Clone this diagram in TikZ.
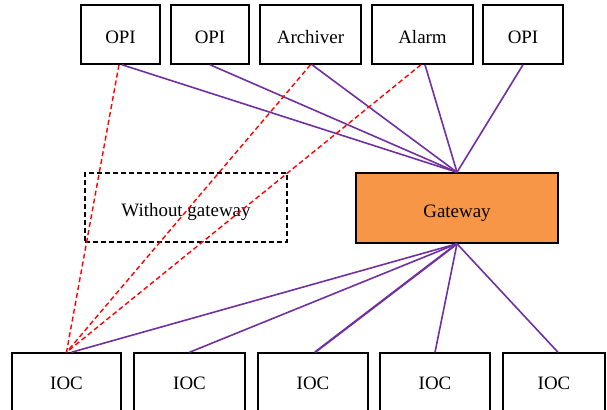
\documentclass[tikz,border=0pt]{standalone}
\usepackage{fontspec}
\setmainfont{Liberation Serif}
\definecolor{linkpurple}{RGB}{112,48,160}
\definecolor{gwfill}{RGB}{247,150,70}
\begin{document}
\begin{tikzpicture}[x=1bp,y=-1bp,
  box/.style={draw=black,line width=1.5bp,rectangle,inner sep=0pt,font=\fontsize{19}{22}\selectfont},
  lowtext/.style={text height=18.6bp,text depth=0pt},
  topbox/.style={box,lowtext,minimum height=59bp},
  iocbox/.style={box,minimum height=60bp},
  gwlink/.style={draw=linkpurple,line width=1.6bp},
  direct/.style={draw=red,dashed,line width=1.4bp,dash pattern=on 5bp off 3bp}]
\useasboundingbox (0,0) rectangle (607,409);
\clip (0,0) rectangle (607,409);
% top row
\node[topbox,minimum width=79bp] (opi1) at (120.5,34.5) {OPI};
\node[topbox,minimum width=78bp] (opi2) at (210,34.5) {OPI};
\node[topbox,minimum width=101bp] (arch) at (310.5,34.5) {Archiver};
\node[topbox,minimum width=101bp] (alarm) at (422.5,34.5) {Alarm};
\node[topbox,minimum width=80bp] (opi3) at (523,34.5) {OPI};
% middle
\node[box,lowtext,dashed,dash pattern=on 5bp off 3bp,minimum width=202bp,minimum height=69bp] (nogw) at (186,207.5) {Without gateway};
\node[box,lowtext,fill=gwfill,minimum width=202bp,minimum height=70bp] (gw) at (457,208) {Gateway};
% bottom row
\node[iocbox,minimum width=109bp] (ioc1) at (66.5,383) {IOC};
\node[iocbox,minimum width=111bp] (ioc2) at (189.5,383) {IOC};
\node[iocbox,minimum width=110bp] (ioc3) at (313,383) {IOC};
\node[iocbox,minimum width=110bp] (ioc4) at (435,383) {IOC};
\node[iocbox,minimum width=102bp] (ioc5) at (554,383) {IOC};
% links via gateway
\draw[gwlink] ([xshift=1.5bp]opi1.south) -- (gw.north);
\draw[gwlink] (opi2.south) -- (gw.north);
\draw[gwlink] ([xshift=1.5bp]arch.south) -- (gw.north);
\draw[gwlink] ([xshift=2.5bp]alarm.south) -- (gw.north);
\draw[gwlink] (opi3.south) -- (gw.north);
\draw[gwlink] (gw.south) -- ([xshift=5bp]ioc1.north);
\draw[gwlink] (gw.south) -- (ioc2.north);
\draw[gwlink,line width=2.2bp] (gw.south) -- ([xshift=2bp]ioc3.north);
\draw[gwlink] (gw.south) -- (ioc4.north);
\draw[gwlink] (gw.south) -- ([xshift=4bp]ioc5.north);
% links without gateway
\draw[direct] ([xshift=-1.5bp]opi1.south) -- (ioc1.north);
\draw[direct] (arch.south) -- (ioc1.north);
\draw[direct] ([xshift=-1.5bp]alarm.south) -- (ioc1.north);
\end{tikzpicture}
\end{document}
